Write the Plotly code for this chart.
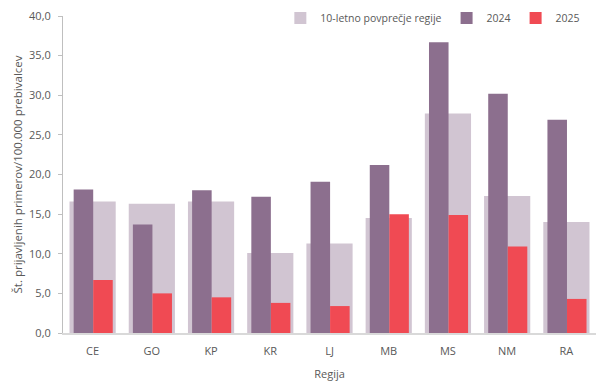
import plotly.graph_objects as go

regions = ["CE", "GO", "KP", "KR", "LJ", "MB", "MS", "NM", "RA"]
avg10 = [16.6, 16.3, 16.6, 10.1, 11.3, 14.5, 27.7, 17.3, 14.0]
y2024 = [18.1, 13.7, 18.0, 17.2, 19.1, 21.2, 36.7, 30.2, 26.9]
y2025 = [6.7, 5.0, 4.5, 3.8, 3.4, 15.0, 14.9, 10.9, 4.3]

font_family = "Open Sans, Lato, sans-serif"
grey = "#595959"

fig = go.Figure()
fig.add_trace(go.Bar(x=regions, y=avg10, name="10-letno povprečje regije",
                     marker=dict(color="#D1C5D2", line=dict(width=0)),
                     width=0.78, offset=-0.39))
fig.add_trace(go.Bar(x=regions, y=y2024, name="2024",
                     marker=dict(color="#8C6F8E", line=dict(width=0)),
                     width=0.33, offset=-0.32))
fig.add_trace(go.Bar(x=regions, y=y2025, name="2025",
                     marker=dict(color="#F04A53", line=dict(width=0)),
                     width=0.33, offset=0.01))

fig.update_layout(
    width=604, height=380,
    barmode="overlay",
    separators=",.",
    paper_bgcolor="white", plot_bgcolor="white",
    margin=dict(l=55, r=16, t=8, b=55, autoexpand=False),
    font=dict(family=font_family, size=11, color=grey),
    showlegend=True,
    legend=dict(orientation="h", x=0.98, xanchor="right", y=0.994, yanchor="middle",
                font=dict(size=10.5, color=grey), itemwidth=30,
                bgcolor="rgba(0,0,0,0)", traceorder="normal"),
    xaxis=dict(showgrid=False, showline=True, linecolor="#D9D9D9", linewidth=1.5,
               ticks="", tickfont=dict(size=11, color=grey), automargin=False,
               ticklabelstandoff=7, ticklabeloverflow="allow",
               title=dict(text="Regija", font=dict(size=11, color=grey), standoff=13)),
    yaxis=dict(range=[0, 40], dtick=5, tickformat=".1f", showgrid=False,
               showline=True, linecolor="#BFBFBF", linewidth=1,
               ticks="outside", ticklen=4, tickcolor="#BFBFBF", automargin=False,
               ticklabelstandoff=5, ticklabeloverflow="allow",
               tickfont=dict(size=11, color=grey), zeroline=False,
               title=dict(text="Št. prijavljenih primerov/100.000 prebivalcev",
                          font=dict(size=11.5, color=grey), standoff=4)),
)

fig.write_html("out.html")
